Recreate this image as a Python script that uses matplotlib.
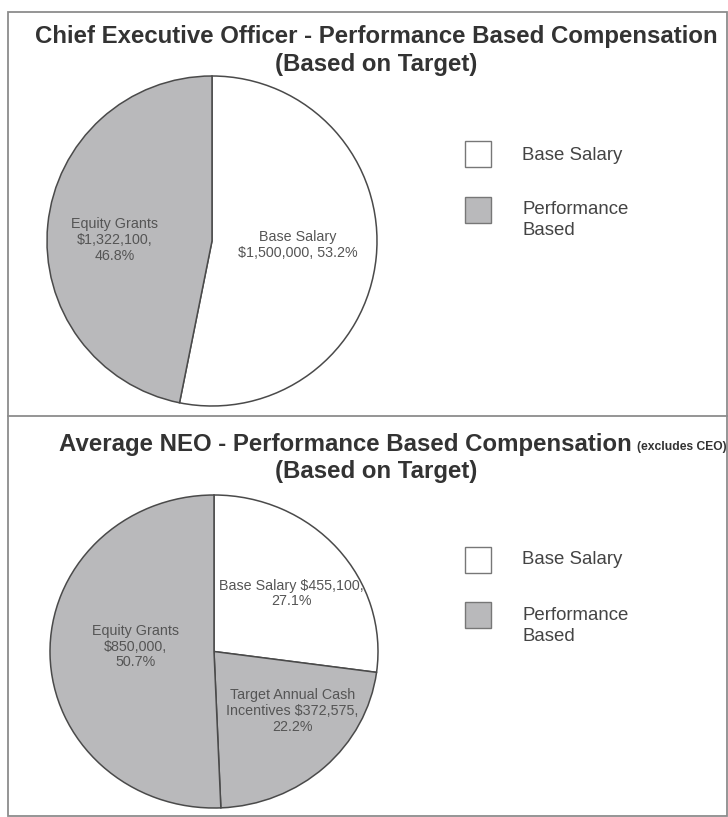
import matplotlib.pyplot as plt
import numpy as np
from matplotlib.patches import Rectangle
from matplotlib.lines import Line2D

plt.rcParams['font.family'] = ['Liberation Sans', 'DejaVu Sans']

# --- data ---
ceo_parts = ['Base Salary', 'Equity Grants']
ceo_values = [1500000, 1322100]
ceo_labels = ['Base Salary\n$1,500,000, 53.2%', 'Equity Grants\n$1,322,100,\n46.8%']
ceo_colors = ['white', '#b9b9bb']

neo_parts = ['Base Salary', 'Target Annual Cash Incentives', 'Equity Grants']
neo_values = [455100, 372575, 850000]
neo_labels = ['Base Salary $455,100,\n27.1%',
              'Target Annual Cash\nIncentives $372,575,\n22.2%',
              'Equity Grants\n$850,000,\n50.7%']
neo_colors = ['white', '#b9b9bb', '#b9b9bb']

legend_names = ['Base Salary', 'Performance\nBased']
legend_colors = ['white', '#b9b9bb']

W, H = 728, 817
EDGE = '#4a4a4a'
TEXT = '#333333'


def fx(x):
    return x / W


def fy(y):
    return 1 - y / H


def draw_pie(fig, box, values, labels, colors, dists, nudges):
    x0, y0, x1, y1 = box
    ax = fig.add_axes([fx(x0), fy(y1), (x1 - x0) / W, (y1 - y0) / H])
    wedges, texts = ax.pie(values, labels=labels, colors=colors, startangle=90,
                           counterclock=False,
                           wedgeprops=dict(edgecolor=EDGE, linewidth=1.1),
                           textprops=dict(fontsize=10.3, color='#555555', ha='center',
                                          va='center', multialignment='center',
                                          linespacing=1.15))
    # move each label along its wedge's mid angle
    for w, t, d, n in zip(wedges, texts, dists, nudges):
        ang = np.deg2rad((w.theta1 + w.theta2) / 2 + n)
        t.set_position((d * np.cos(ang), d * np.sin(ang)))
    ax.set_xlim(-1.0, 1.0)
    ax.set_ylim(-1.0, 1.0)
    ax.set_aspect('auto')
    ax.axis('off')
    return ax


def draw_legend(fig, box_rows, text_rows):
    for name, color, yb, yt in zip(legend_names, legend_colors, box_rows, text_rows):
        fig.add_artist(Rectangle((fx(465), fy(yb + 13)), 26 / W, 26 / H,
                                 transform=fig.transFigure, facecolor=color,
                                 edgecolor='#777777', linewidth=1.0))
        fig.text(fx(522), fy(yt), name, fontsize=13.4, color='#444444',
                 ha='left', va='center', linespacing=1.3)


fig = plt.figure(figsize=(W / 100, H / 100), dpi=100)

# frame and divider
fig.add_artist(Rectangle((fx(8), fy(816)), (727 - 8) / W, (816 - 12) / H,
                         transform=fig.transFigure, facecolor='none',
                         edgecolor='#8c8c8c', linewidth=1.3))
fig.add_artist(Line2D([fx(8), fx(727)], [fy(416), fy(416)],
                      transform=fig.transFigure, color='#8c8c8c', linewidth=1.3))

# top panel
fig.text(fx(376), fy(37), 'Chief Executive Officer - Performance Based Compensation',
         fontsize=17.3, fontweight='bold', color=TEXT, ha='center', va='center')
fig.text(fx(376), fy(64), '(Based on Target)',
         fontsize=17.3, fontweight='bold', color=TEXT, ha='center', va='center')
draw_pie(fig, (47, 76, 377, 406), ceo_values, ceo_labels, ceo_colors,
         [0.52, 0.59], [3, 5])
draw_legend(fig, [154, 210], [155, 220])

# bottom panel
fig.text(fx(632), fy(445), 'Average NEO - Performance Based Compensation',
         fontsize=17.3, fontweight='bold', color=TEXT, ha='right', va='center')
fig.text(fx(637), fy(447), '(excludes CEO)',
         fontsize=8.7, fontweight='bold', color=TEXT, ha='left', va='center')
fig.text(fx(376), fy(472), '(Based on Target)',
         fontsize=17.3, fontweight='bold', color=TEXT, ha='center', va='center')
draw_pie(fig, (50, 495, 378, 808), neo_values, neo_labels, neo_colors,
         [0.6, 0.61, 0.48], [-3, 9, -5])
draw_legend(fig, [560, 615], [560, 626])

fig.savefig('out.png', dpi=100)
